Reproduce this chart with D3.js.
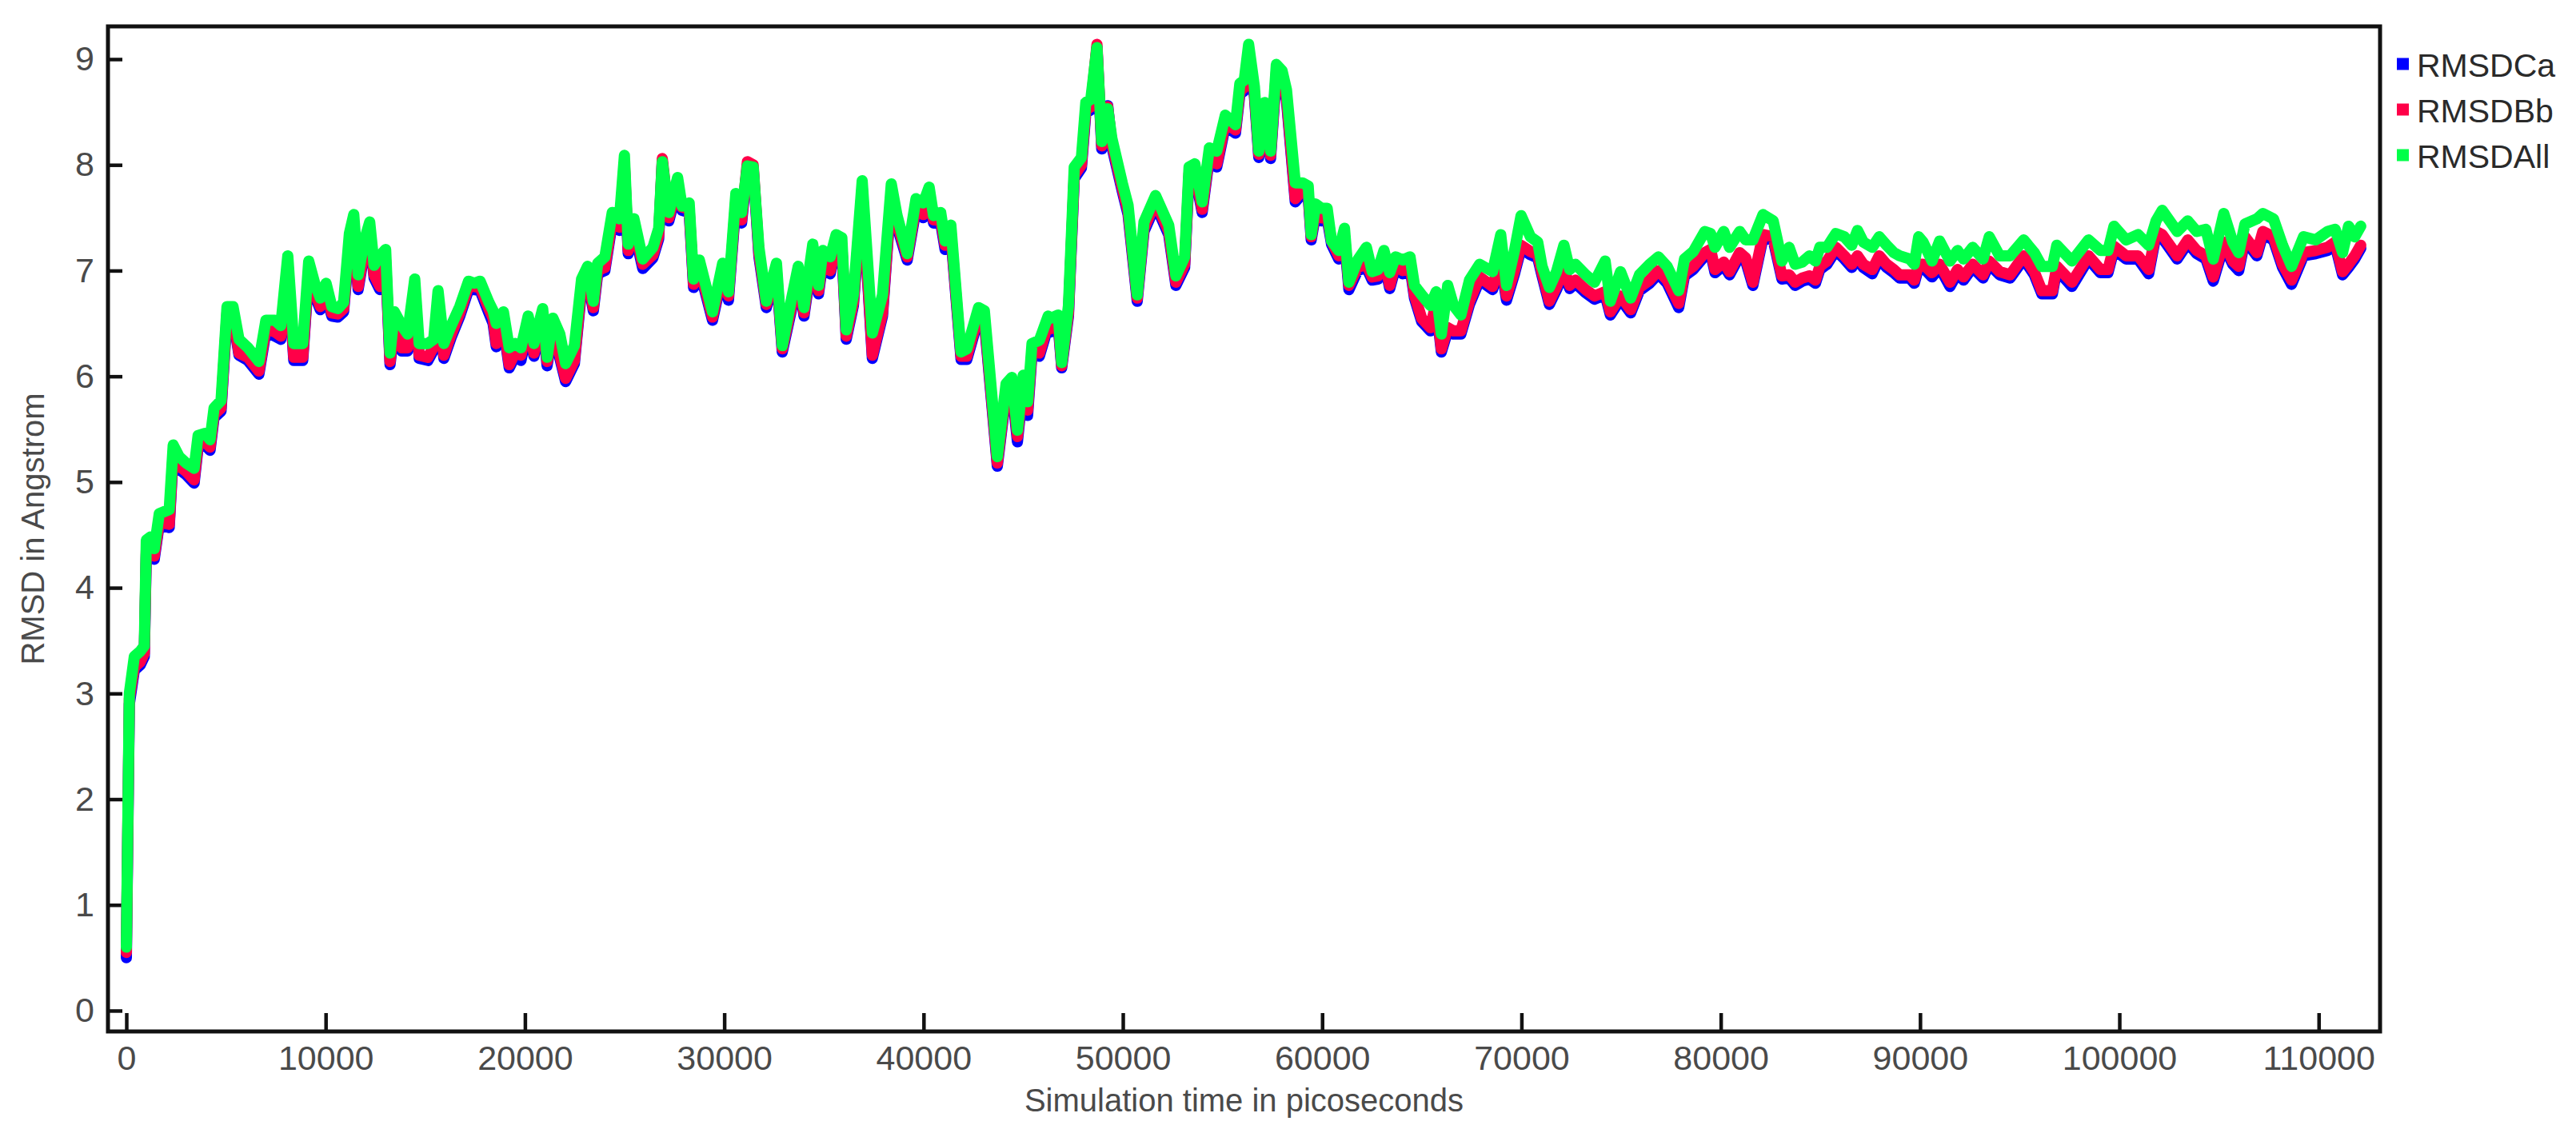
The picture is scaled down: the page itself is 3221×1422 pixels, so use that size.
<!DOCTYPE html>
<html>
<head>
<meta charset="utf-8">
<script src="https://cdn.jsdelivr.net/npm/d3@7"></script>
<style>
  body { margin: 0; background: #fff; }
  svg { display: block; font-family: "Liberation Sans", Arial, sans-serif; }
</style>
</head>
<body>
<svg width="3221" height="1422"></svg>
<script>
// simulation time (ps)
const times = [
  0, 150, 400, 700, 900, 1000, 1200, 1400, 1650, 2150, 2350, 2650, 3000, 3400, 3600,
  3950, 4200, 4400, 4750, 5050, 5350, 5650, 6100, 6650, 7000, 7450, 7750, 8100, 8400, 8850,
  9150, 9450, 9730, 10020, 10310, 10610, 10900, 11190, 11410, 11630, 11920, 12210, 12430, 12720, 13010,
  13230, 13450, 13820, 14110, 14470, 14690, 15130, 15420, 15640, 15930, 16300, 16730, 17170, 17460, 17750,
  18190, 18400, 18560, 18920, 19210, 19500, 19800, 20160, 20450, 20890, 21110, 21400, 21750, 22040, 22480,
  22840, 23140, 23430, 23650, 24010, 24380, 24740, 24990, 25180, 25470, 25910, 26420, 26710, 26890, 27220,
  27660, 27880, 28240, 28460, 28750, 29410, 29920, 30210, 30580, 30870, 31160, 31450, 31740, 32110, 32620,
  32910, 33350, 33710, 34000, 34440, 34730, 34950, 35320, 35610, 35900, 36120, 36480, 36920, 37430, 37940,
  38380, 38670, 39180, 39620, 39990, 40280, 40500, 40860, 41080, 41370, 41880, 42170, 42760, 43050, 43700,
  44140, 44430,
  44710, 45000, 45220, 45440, 45810, 46250, 46390, 46760, 46930, 47270, 47560, 47920, 48140, 48390, 48700,
  48940, 49240, 49450, 49970, 50260, 50720, 51060, 51640, 52300, 52660, 53100, 53320, 53610, 53980, 54340,
  54710, 55140, 55650, 55870, 56090, 56310, 56600, 56820, 57110, 57410, 57700, 57990, 58210, 58650, 59010,
  59300, 59450, 59670, 59960, 60250, 60470, 60830, 61120, 61340, 61780, 62220, 62510, 62800, 63100, 63390,
  63680, 64040, 64410, 64630, 64990, 65430, 65720, 65980, 66300, 66590, 66960,
  67390, 67900, 68550, 68960, 69250, 69650, 69980, 70450, 70815, 71035, 71400, 71760, 72130, 72420, 72710,
  73220, 73660, 74200, 74460, 74970, 75480, 75920, 76430, 76870, 77310, 77890, 78180, 78620, 79200, 79490,
  79710, 80150, 80440, 80950, 81250, 81610, 82120, 82630, 83070, 83430, 83730, 84090, 84450, 84750, 84970,
  85330, 85770, 86200, 86570, 86860, 87150, 87600, 87950, 88320, 88680, 88970, 89480, 89710, 89930,
  90150, 90600, 90980, 91500, 91880, 92180, 92640, 93160, 93470, 93990, 94520, 95200, 95730, 96110, 96640,
  96860, 97620, 98450, 99050, 99430, 99730, 100340, 100940, 101470, 101840, 102150, 102900, 103430, 103880, 104340,
  104710, 105240, 105690, 105990, 106300, 106900, 107200, 107730, 108190, 108640, 109240, 109850, 110450, 110830, 111200,
  111500, 111810, 112110
];

const rmsdCa = [
  0.50, 2.90, 3.22, 3.27, 3.35, 4.32, 4.37, 4.27, 4.60, 4.57, 5.25, 5.12, 5.07, 4.99, 5.33,
  5.35, 5.30, 5.61, 5.67, 6.57, 6.57, 6.20, 6.15, 6.02, 6.42, 6.38, 6.35, 7.03, 6.15, 6.15,
  6.97, 6.77, 6.63, 6.77, 6.57, 6.56, 6.61, 7.24, 7.42, 6.82, 7.15, 7.35, 6.93, 6.82, 7.07,
  6.11, 6.47, 6.24, 6.24, 6.81, 6.17, 6.15, 6.25, 6.70, 6.17, 6.37, 6.57, 6.82, 6.82, 6.81,
  6.60, 6.50, 6.28, 6.47, 6.08, 6.19, 6.15, 6.47, 6.19, 6.53, 6.10, 6.44, 6.17, 5.95, 6.12,
  6.82, 6.93, 6.62, 6.97, 7.00, 7.45, 7.38, 7.99, 7.16, 7.39, 7.02, 7.12, 7.30, 8.03, 7.47,
  7.79, 7.57, 7.55, 6.84, 7.01, 6.53, 6.97, 6.72, 7.63, 7.45, 8.00, 7.97, 7.13, 6.65, 6.97,
  6.23, 6.61, 6.94, 6.57, 7.15, 6.78, 7.09, 6.97, 7.24, 7.21, 6.35, 6.67, 7.75, 6.17, 6.57,
  7.72, 7.42, 7.10, 7.58, 7.50, 7.69, 7.45, 7.45, 7.20, 7.33, 6.16, 6.16, 6.55, 6.52, 5.15,
  5.83, 5.89,
  5.38, 5.91, 5.63, 6.21, 6.19, 6.47, 6.42, 6.47, 6.08, 6.57, 7.87, 7.97, 8.49, 8.52, 9.11,
  8.15, 8.56, 8.17, 7.75, 7.53, 6.71, 7.37, 7.62, 7.34, 6.86, 7.03, 7.89, 7.92, 7.55, 8.07,
  7.98, 8.37, 8.30, 8.67, 8.70, 9.05, 8.65, 8.07, 8.49, 8.06, 8.85, 8.79, 8.61, 7.65, 7.73,
  7.70, 7.29, 7.53, 7.47, 7.49, 7.25, 7.11, 7.30, 6.82, 7.00, 7.03, 6.91, 6.92, 7.09, 6.83,
  7.03, 6.97, 7.03, 6.74, 6.52, 6.43, 6.67, 6.23, 6.43, 6.40, 6.40,
  6.68, 6.91, 6.82, 7.07, 6.72, 6.97, 7.21, 7.15, 7.12, 6.95, 6.68, 6.82, 6.98, 6.83, 6.88,
  6.79, 6.73, 6.77, 6.58, 6.73, 6.60, 6.81, 6.88, 6.97, 6.88, 6.65, 6.95, 7.01, 7.14, 7.17,
  6.98, 7.05, 6.96, 7.14, 7.09, 6.86, 7.31, 7.29, 6.92, 6.93, 6.86, 6.90, 6.92, 6.88, 7.01,
  7.06, 7.19, 7.11, 7.03, 7.11, 7.03, 6.97, 7.11, 7.03, 6.98, 6.93, 6.93, 6.88, 7.03,
  7.03, 6.94, 7.03, 6.85, 6.98, 6.91, 7.03, 6.93, 7.06, 6.96, 6.93, 7.11, 6.96, 6.78, 6.78,
  7.01, 6.85, 7.11, 6.98, 6.98, 7.20, 7.11, 7.11, 6.97, 7.34, 7.31, 7.11, 7.26, 7.16, 7.11,
  6.90, 7.24, 7.06, 7.00, 7.29, 7.14, 7.34, 7.29, 7.03, 6.87, 7.14, 7.16, 7.19, 7.24, 6.96,
  7.03, 7.11, 7.21
];

const rmsdBb = [
  0.55, 2.95, 3.25, 3.30, 3.38, 4.35, 4.40, 4.30, 4.62, 4.60, 5.28, 5.15, 5.10, 5.02, 5.36,
  5.38, 5.33, 5.64, 5.70, 6.60, 6.60, 6.22, 6.18, 6.05, 6.45, 6.42, 6.38, 7.06, 6.18, 6.18,
  7.00, 6.80, 6.66, 6.80, 6.60, 6.59, 6.64, 7.27, 7.45, 6.85, 7.18, 7.38, 6.96, 6.85, 7.10,
  6.14, 6.50, 6.27, 6.27, 6.84, 6.20, 6.18, 6.28, 6.73, 6.20, 6.40, 6.60, 6.85, 6.85, 6.84,
  6.64, 6.55, 6.31, 6.50, 6.11, 6.22, 6.20, 6.50, 6.22, 6.56, 6.14, 6.47, 6.20, 5.98, 6.15,
  6.85, 6.96, 6.65, 7.00, 7.03, 7.48, 7.41, 8.02, 7.19, 7.42, 7.06, 7.15, 7.33, 8.06, 7.50,
  7.82, 7.60, 7.58, 6.87, 7.04, 6.56, 7.00, 6.76, 7.66, 7.48, 8.03, 8.00, 7.16, 6.68, 7.00,
  6.26, 6.64, 6.97, 6.60, 7.18, 6.81, 7.12, 7.00, 7.27, 7.24, 6.38, 6.70, 7.78, 6.20, 6.60,
  7.75, 7.45, 7.13, 7.61, 7.53, 7.72, 7.48, 7.48, 7.24, 7.36, 6.19, 6.19, 6.58, 6.55, 5.18,
  5.86, 5.92,
  5.43, 5.94, 5.68, 6.24, 6.22, 6.50, 6.45, 6.50, 6.10, 6.60, 7.90, 8.00, 8.52, 8.55, 9.14,
  8.18, 8.55, 8.20, 7.78, 7.56, 6.74, 7.40, 7.65, 7.37, 6.89, 7.06, 7.92, 7.95, 7.58, 8.10,
  8.01, 8.40, 8.33, 8.70, 8.73, 9.08, 8.68, 8.10, 8.52, 8.09, 8.88, 8.82, 8.64, 7.68, 7.76,
  7.73, 7.32, 7.56, 7.50, 7.52, 7.28, 7.14, 7.33, 6.86, 7.03, 7.06, 6.94, 6.95, 7.12, 6.86,
  7.06, 7.00, 7.06, 6.77, 6.55, 6.46, 6.70, 6.26, 6.46, 6.43, 6.43,
  6.71, 6.94, 6.85, 7.10, 6.76, 7.00, 7.24, 7.18, 7.15, 6.98, 6.71, 6.85, 7.01, 6.86, 6.91,
  6.82, 6.76, 6.80, 6.61, 6.76, 6.63, 6.84, 6.91, 7.00, 6.91, 6.69, 6.98, 7.04, 7.17, 7.20,
  7.01, 7.08, 6.99, 7.17, 7.12, 6.89, 7.34, 7.32, 6.95, 6.96, 6.89, 6.93, 6.95, 6.91, 7.04,
  7.09, 7.22, 7.14, 7.06, 7.14, 7.06, 7.01, 7.14, 7.06, 7.01, 6.96, 6.96, 6.91, 7.06,
  7.06, 6.98, 7.06, 6.89, 7.01, 6.94, 7.06, 6.96, 7.09, 6.99, 6.96, 7.14, 6.99, 6.81, 6.81,
  7.04, 6.89, 7.14, 7.01, 7.01, 7.23, 7.14, 7.14, 7.01, 7.37, 7.34, 7.14, 7.29, 7.19, 7.14,
  6.94, 7.27, 7.09, 7.04, 7.32, 7.17, 7.37, 7.32, 7.06, 6.91, 7.17, 7.19, 7.22, 7.27, 6.99,
  7.06, 7.14, 7.24
];

const rmsdAll = [
  0.60, 3.00, 3.35, 3.40, 3.45, 4.45, 4.48, 4.37, 4.70, 4.74, 5.35, 5.24, 5.18, 5.13, 5.44,
  5.46, 5.40, 5.70, 5.77, 6.66, 6.66, 6.35, 6.27, 6.14, 6.53, 6.53, 6.48, 7.14, 6.31, 6.31,
  7.09, 6.88, 6.74, 6.88, 6.66, 6.64, 6.70, 7.35, 7.53, 6.96, 7.27, 7.46, 7.05, 7.14, 7.20,
  6.22, 6.61, 6.48, 6.40, 6.92, 6.31, 6.31, 6.35, 6.81, 6.31, 6.48, 6.66, 6.90, 6.88, 6.90,
  6.70, 6.62, 6.50, 6.61, 6.27, 6.31, 6.27, 6.57, 6.31, 6.64, 6.18, 6.55, 6.40, 6.12, 6.29,
  6.92, 7.04, 6.71, 7.07, 7.13, 7.55, 7.49, 8.09, 7.25, 7.49, 7.11, 7.22, 7.40, 8.03, 7.55,
  7.88, 7.61, 7.64, 6.92, 7.10, 6.61, 7.07, 6.80, 7.73, 7.55, 7.99, 7.98, 7.22, 6.71, 7.07,
  6.29, 6.71, 7.04, 6.65, 7.25, 6.86, 7.19, 7.13, 7.34, 7.31, 6.44, 6.77, 7.85, 6.41, 6.77,
  7.82, 7.52, 7.16, 7.68, 7.64, 7.79, 7.52, 7.55, 7.28, 7.43, 6.23, 6.26, 6.65, 6.62, 5.24,
  5.93, 5.99,
  5.49, 6.01, 5.76, 6.31, 6.34, 6.57, 6.55, 6.58, 6.13, 6.67, 7.98, 8.07, 8.59, 8.62, 9.11,
  8.22, 8.53, 8.25, 7.83, 7.62, 6.77, 7.46, 7.71, 7.43, 6.95, 7.13, 7.98, 8.01, 7.65, 8.16,
  8.13, 8.47, 8.38, 8.77, 8.80, 9.14, 8.74, 8.13, 8.59, 8.13, 8.95, 8.89, 8.71, 7.83, 7.83,
  7.80, 7.34, 7.63, 7.59, 7.59, 7.28, 7.19, 7.40, 6.89, 7.10, 7.22, 6.99, 7.01, 7.19, 6.98,
  7.13, 7.10, 7.13, 6.86, 6.77, 6.67, 6.80, 6.40, 6.86, 6.67, 6.58,
  6.91, 7.06, 6.99, 7.34, 6.86, 7.19, 7.52, 7.32, 7.27, 7.04, 6.84, 6.99, 7.24, 7.01, 7.06,
  6.96, 6.89, 7.09, 6.71, 6.99, 6.74, 6.96, 7.06, 7.13, 7.04, 6.81, 7.11, 7.18, 7.37, 7.35,
  7.22, 7.37, 7.22, 7.37, 7.29, 7.29, 7.53, 7.47, 7.09, 7.22, 7.06, 7.08, 7.14, 7.09, 7.22,
  7.22, 7.35, 7.32, 7.24, 7.38, 7.27, 7.22, 7.32, 7.24, 7.17, 7.14, 7.11, 7.06, 7.32,
  7.27, 7.09, 7.28, 7.09, 7.19, 7.11, 7.22, 7.11, 7.32, 7.14, 7.14, 7.29, 7.17, 7.04, 7.04,
  7.24, 7.09, 7.29, 7.19, 7.19, 7.42, 7.29, 7.34, 7.24, 7.47, 7.57, 7.37, 7.47, 7.37, 7.39,
  7.11, 7.54, 7.27, 7.17, 7.44, 7.49, 7.54, 7.49, 7.24, 7.04, 7.32, 7.29, 7.37, 7.39, 7.17,
  7.42, 7.32, 7.42
];

const seriesNames = ['RMSDCa', 'RMSDBb', 'RMSDAll'];
const seriesColors = ['#0000ff', '#ff0048', '#00ff48'];
const xTickValues = [0, 10000, 20000, 30000, 40000, 50000, 60000, 70000, 80000, 90000, 100000, 110000];
const yTickValues = [0, 1, 2, 3, 4, 5, 6, 7, 8, 9];

class RmsdChart {
  constructor(d3) {
    this.d3 = d3;
    this.svg = d3.select('svg');
    this.left = 135;
    this.right = 2976;
    this.top = 33;
    this.bottom = 1290;
    this.x = d3.scaleLinear().domain([-923, 113080]).range([this.left, this.right]);
    this.y = d3.scaleLinear().domain([-0.197, 9.31]).range([this.bottom, this.top]);
  }

  draw() {
    this.drawAxes();
    this.drawLines();
    this.drawFrame();
    this.drawLegend();
    this.drawTitles();
  }

  drawAxes() {
    const xAxis = this.d3.axisBottom(this.x)
      .tickValues(xTickValues)
      .tickFormat(this.d3.format('d'))
      .tickSizeInner(-23)
      .tickSizeOuter(0)
      .tickPadding(17);

    const yAxis = this.d3.axisLeft(this.y)
      .tickValues(yTickValues)
      .tickFormat(this.d3.format('d'))
      .tickSizeInner(-18)
      .tickSizeOuter(0)
      .tickPadding(17);

    const gx = this.svg.append('g')
      .attr('transform', `translate(0,${this.bottom})`)
      .call(xAxis);
    const gy = this.svg.append('g')
      .attr('transform', `translate(${this.left},0)`)
      .call(yAxis);

    [gx, gy].forEach((g) => {
      g.select('.domain').remove();
      g.selectAll('.tick line').attr('stroke', '#111').attr('stroke-width', 4.5);
      g.selectAll('.tick text')
        .attr('fill', '#4a4a4a')
        .style('font-size', '43px')
        .style('font-family', '"Liberation Sans", Arial, sans-serif');
    });
  }

  drawLines() {
    const line = this.d3.line()
      .x((d) => this.x(d[0]))
      .y((d) => this.y(d[1]));

    [rmsdCa, rmsdBb, rmsdAll].forEach((values, i) => {
      const points = times.map((t, j) => [t, values[j]]);
      this.svg.append('path')
        .datum(points)
        .attr('fill', 'none')
        .attr('stroke', seriesColors[i])
        .attr('stroke-width', 14)
        .attr('stroke-linejoin', 'round')
        .attr('stroke-linecap', 'round')
        .attr('d', line);
    });
  }

  drawFrame() {
    this.svg.append('rect')
      .attr('x', this.left)
      .attr('y', this.top)
      .attr('width', this.right - this.left)
      .attr('height', this.bottom - this.top)
      .attr('fill', 'none')
      .attr('stroke', '#111')
      .attr('stroke-width', 5);
  }

  drawLegend() {
    const legend = this.svg.append('g');
    seriesNames.forEach((name, i) => {
      const cy = 80 + i * 57;
      legend.append('rect')
        .attr('x', 2997)
        .attr('y', cy - 7.5)
        .attr('width', 15)
        .attr('height', 15)
        .attr('fill', seriesColors[i]);
      legend.append('text')
        .attr('x', 3022)
        .attr('y', cy + 16)
        .attr('fill', '#2a2a2a')
        .style('font-size', '41px')
        .text(name);
    });
  }

  drawTitles() {
    this.svg.append('text')
      .attr('x', (this.left + this.right) / 2)
      .attr('y', 1390)
      .attr('text-anchor', 'middle')
      .attr('fill', '#4a4a4a')
      .style('font-size', '40px')
      .text('Simulation time in picoseconds');

    this.svg.append('text')
      .attr('transform', `translate(55,${(this.top + this.bottom) / 2}) rotate(-90)`)
      .attr('text-anchor', 'middle')
      .attr('fill', '#4a4a4a')
      .style('font-size', '40px')
      .text('RMSD in Angstrom');
  }
}

new RmsdChart(d3).draw();
</script>
</body>
</html>
